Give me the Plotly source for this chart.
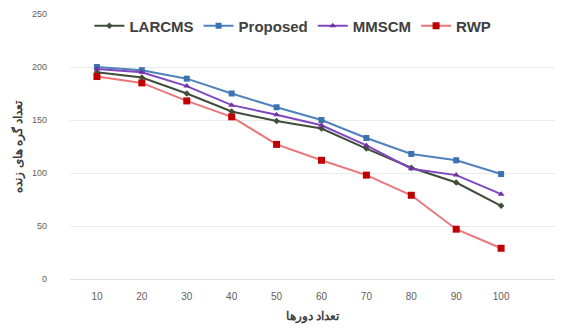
import plotly.graph_objects as go

rounds = [10, 20, 30, 40, 50, 60, 70, 80, 90, 100]
larcms = [195, 190, 175, 158, 149, 142, 123, 105, 91, 69]
proposed = [200, 197, 189, 175, 162, 150, 133, 118, 112, 99]
mmscm = [198, 195, 182, 164, 155, 145, 126, 104, 98, 80]
rwp = [191, 185, 168, 153, 127, 112, 98, 79, 47, 29]
y_ticks = [0, 50, 100, 150, 200, 250]

fig = go.Figure()
series = [
    ("LARCMS", larcms, "#3f4d3a", "#3f4d3a", "diamond", 5),
    ("Proposed", proposed, "#4f81bd", "#3d72b0", "square", 6),
    ("MMSCM", mmscm, "#7f47c0", "#7030a0", "triangle-up", 6),
    ("RWP", rwp, "#e8767a", "#c00000", "square", 7),
]
for name, vals, lc, mc, sym, ms in series:
    fig.add_trace(go.Scatter(
        x=rounds, y=vals, name=name, mode="lines+markers",
        line=dict(color=lc, width=2),
        marker=dict(color=mc, symbol=sym, size=ms),
    ))

fig.update_layout(
    width=563, height=331,
    margin=dict(l=70, r=8, t=14, b=52),
    paper_bgcolor="white", plot_bgcolor="white",
    font=dict(family="Liberation Sans", color="#404040"),
    legend=dict(orientation="h", x=0.04, y=0.955, xanchor="left", yanchor="middle",
                font=dict(size=15, family="Liberation Sans", color="#404040", weight="bold"),
                bgcolor="rgba(0,0,0,0)", itemwidth=30, tracegroupgap=0),
    xaxis=dict(range=[4, 112], tickvals=rounds, showgrid=False, zeroline=False,
               showline=True, linecolor="#e0e0e0", ticks="",
               ticklabelstandoff=8,
               tickfont=dict(size=10, color="#606060"),
               title=dict(text="<b>تعداد دورها</b>", font=dict(size=12, color="#404040"), standoff=10)),
    yaxis=dict(range=[0, 250], tickvals=y_ticks, showgrid=True, gridcolor="#ebebeb",
               zeroline=False, showline=False, ticks="",
               ticklabelstandoff=22,
               tickfont=dict(size=9, color="#606060"),
               title=dict(text="<b>تعداد گره های زنده</b>", font=dict(size=12, color="#404040"), standoff=6)),
)
fig.write_html("out.html")
